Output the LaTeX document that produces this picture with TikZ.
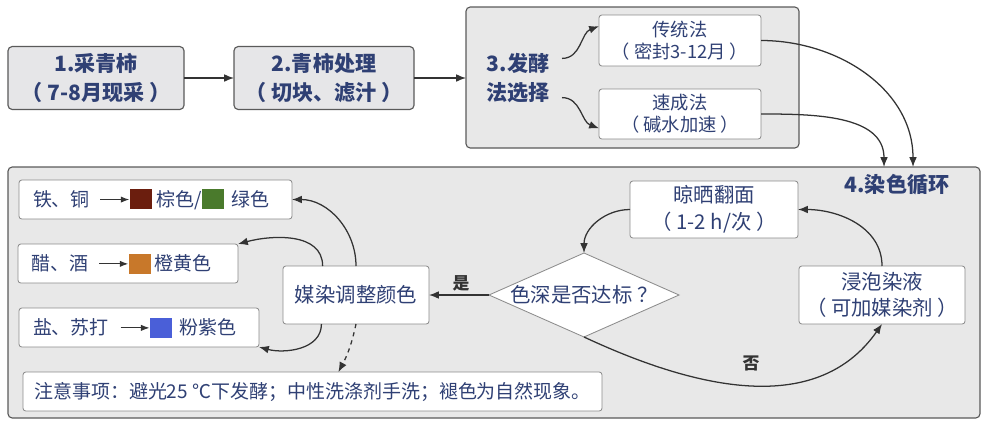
\documentclass[tikz,border=0pt]{standalone}
\usepackage{fontspec}
\setmainfont{Noto Sans CJK SC}
\usetikzlibrary{arrows.meta,shapes.geometric}

\newcommand{\swatch}[1]{\textcolor{#1}{\rule[-0.07cm]{0.55cm}{0.5cm}}}
\newcommand{\mordto}{\tikz[baseline=-0.36em]\draw[-{Latex[length=6pt,width=4.5pt]}, line width=0.7pt, LineGray] (0,0) -- (0.72,0);}
\newcommand{\punct}[1]{\hspace{0.22em}#1}

\begin{document}
\begin{tikzpicture}[
  font=\fontsize{14}{18}\selectfont,
  every node/.style={inner sep=0pt, outer sep=0pt},
  stepbox/.style={draw=StepFrame, fill=StepBg, rounded corners=3pt, line width=0.8pt,
    text=TxtBlue, font=\fontsize{15}{20}\selectfont\bfseries, align=center},
  panel/.style={draw=StepFrame, fill=PanelBg, rounded corners=3pt, line width=0.8pt},
  steptext/.style={text=TxtBlue, font=\fontsize{15}{20}\selectfont\bfseries, align=center},
  methodbox/.style={draw=BoxFrame, fill=white, rounded corners=2pt, line width=0.6pt,
    text=TxtBlue, font=\fontsize{13}{15.5}\selectfont, align=center},
  cyclebox/.style={draw=BoxFrame, fill=white, rounded corners=2pt, line width=0.6pt,
    text=TxtBlue, font=\fontsize{14.5}{19}\selectfont, align=center},
  checkbox/.style={draw=BoxFrame, fill=white, shape=diamond, shape aspect=2.26,
    line width=0.6pt, text=TxtBlue, font=\fontsize{14.5}{19}\selectfont},
  mordbox/.style={draw=BoxFrame, fill=white, rounded corners=2pt, line width=0.6pt,
    text=TxtBlue, font=\fontsize{13.5}{16}\selectfont, inner xsep=0.35cm,
    minimum height=0.975cm, align=left},
  answer/.style={text=LineGray, font=\fontsize{12}{14}\selectfont\bfseries},
  flow/.style={-{Latex[length=7pt,width=5.5pt]}, line width=0.9pt, draw=LineGray},
]

% ── colors ──
\definecolor{TxtBlue}{HTML}{2F4074}
\definecolor{StepBg}{HTML}{E6E6E8}
\definecolor{PanelBg}{HTML}{E8E8E8}
\definecolor{StepFrame}{HTML}{5A5A5A}
\definecolor{BoxFrame}{HTML}{8C8C8C}
\definecolor{LineGray}{HTML}{333333}
\definecolor{IronBrown}{HTML}{6B1E0E}
\definecolor{CopperGreen}{HTML}{4A7A2C}
\definecolor{VinegarOrange}{HTML}{C8782A}
\definecolor{SaltBlue}{HTML}{4A5FD8}

\useasboundingbox (0,0) rectangle (24.6,-10.5);

% ── Stages 1-3 ──
\node[stepbox, minimum width=4.40cm, minimum height=1.575cm] (pick) at (2.40,-1.95) {1.采青柿\\（ 7-8月现采 ）};
\node[stepbox, minimum width=4.50cm, minimum height=1.575cm] (prep) at (8.10,-1.95) {2.青柿处理\\（ 切块、滤汁 ）};
\node[panel, minimum width=8.325cm, minimum height=3.525cm] (fermpanel) at (15.8125,-1.9375) {};
\node[steptext, minimum width=2.2cm, minimum height=1.4cm] (ferm) at (12.95,-1.95) {3.发酵\\法选择};
\node[methodbox, minimum width=4.05cm, minimum height=1.275cm] (trad) at (17.00,-1.0125) {传统法\\（ 密封3-12月 ）};
\node[methodbox, minimum width=4.05cm, minimum height=1.25cm] (fast) at (17.00,-2.85) {速成法\\（ 碱水加速 ）};

\draw[flow] (pick) -- (prep);
\draw[flow] (prep) -- (prep -| fermpanel.west);
\draw[flow] (ferm.24) to[out=0, in=200] (trad.170);
\draw[flow] (ferm.-24) to[out=0, in=160] (fast.190);

% ── Stage 4: dyeing loop ──
\node[panel, minimum width=24.3cm, minimum height=6.275cm] (dyepanel) at (12.35,-7.3125) {};
\node[steptext] (dyetitle) at (22.425,-4.625) {4.染色循环};
\coordinate (dyeinF) at (22.10,-4.175);
\coordinate (dyeinT) at (22.825,-4.175);
\draw[flow] (trad.east) to[out=0, in=90] (dyeinT);
\draw[flow] (fast.east) to[out=0, in=90] (dyeinF);

\node[cyclebox, minimum width=4.2cm, minimum height=1.425cm] (dry) at (17.85,-5.2375) {晾晒翻面\\（ 1-2 h/次 ）};
\node[cyclebox, minimum width=4.15cm, minimum height=1.45cm] (soak) at (22.05,-7.375) {浸泡染液\\（ 可加媒染剂 ）};
\node[checkbox, minimum width=4.75cm, minimum height=2.1cm] (check) at (14.6,-7.375) {色深是否达标\punct{？}};
\node[cyclebox, minimum width=3.65cm, minimum height=1.45cm] (mordant) at (8.90,-7.375) {媒染调整颜色};

\draw[flow] (soak.north) to[out=90, in=0] (dry.east);
\draw[flow] (dry.west) to[out=180, in=90] (check.north);
\draw[flow] (check.south) to[out=-25, in=-125] (soak.south);
\draw[flow] (check.west) -- (mordant.east);
\node[answer] (yeslbl) at (11.525,-7.075) {是};
\node[answer] (nolbl) at (18.775,-9.075) {否};

% ── mordants ──
\node[mordbox, text width=6.125cm] (iron) at (3.8875,-4.9875) {铁、铜\hspace{0.25cm}\mordto\swatch{IronBrown}\hspace{0.12cm}棕色/\swatch{CopperGreen}\hspace{0.2cm}绿色};
\node[mordbox, text width=4.8cm] (vinegar) at (3.20,-6.5875) {醋、酒\hspace{0.25cm}\mordto\swatch{VinegarOrange}\hspace{0.1cm}橙黄色};
\node[mordbox, text width=5.3cm] (salt) at (3.475,-8.1875) {盐、苏打\hspace{0.28cm}\mordto\swatch{SaltBlue}\hspace{0.18cm}粉紫色};
\node[mordbox, minimum width=14.475cm, inner xsep=0.15cm, align=center] (note) at (7.8125,-9.7875) {注意事项：避光25 ℃下发酵；中性洗涤剂手洗；褪色为自然现象。};

\draw[flow] (mordant.north) to[out=90, in=0] (iron.east);
\draw[flow] (mordant.139) to[out=90, in=15] (vinegar.north east);
\draw[flow] (mordant.220) to[out=-90, in=-15] (salt.south east);
\draw[flow, dashed] (mordant.south) to[bend left=8] (note.37);

\end{tikzpicture}
\end{document}
